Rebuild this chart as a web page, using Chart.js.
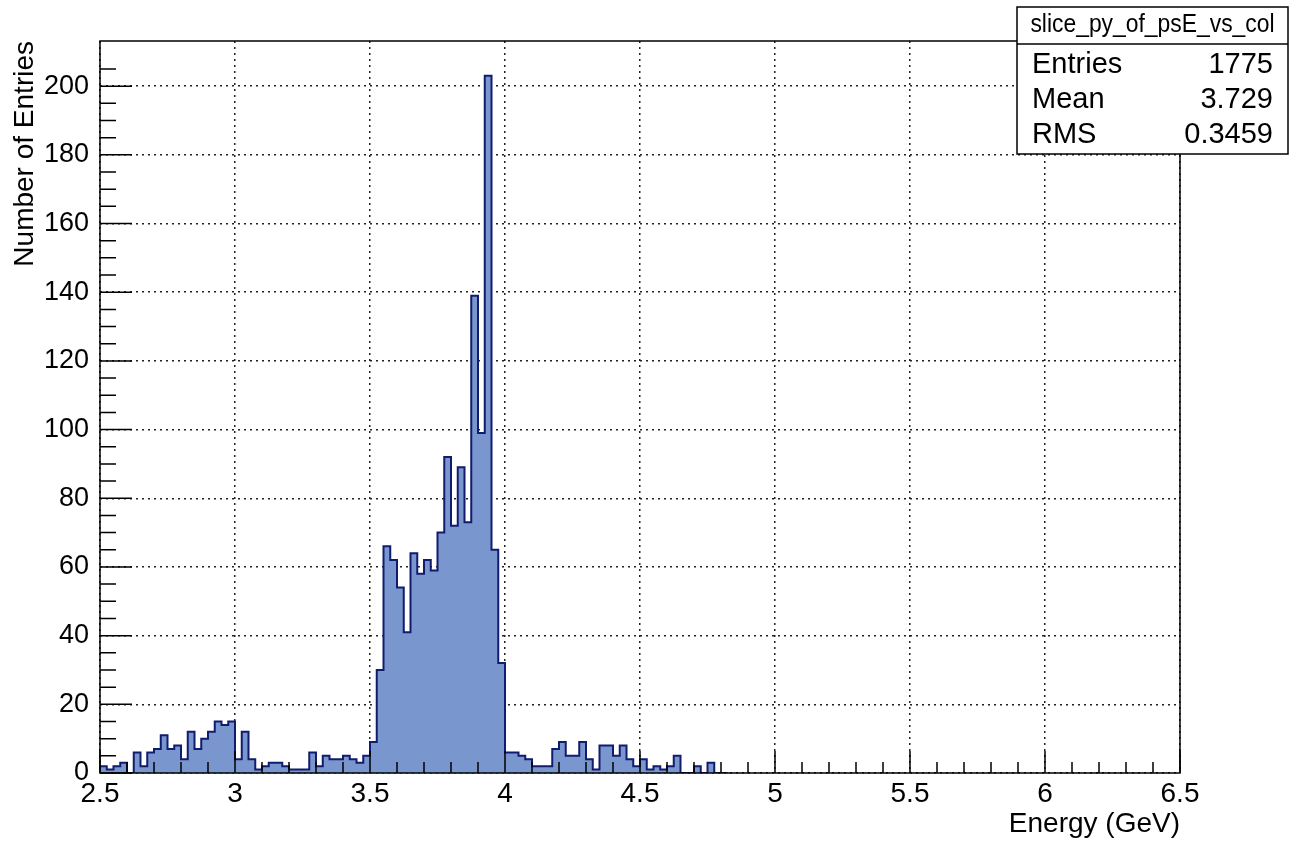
<!DOCTYPE html>
<html>
<head>
<meta charset="utf-8">
<script src="https://cdn.jsdelivr.net/npm/chart.js@4.4.1/dist/chart.umd.min.js"></script>
<style>
  html, body { margin: 0; padding: 0; background: #fff; }
</style>
</head>
<body>
<canvas id="histo" width="1300" height="846"></canvas>
<script>
// slice_py_of_psE_vs_col : 0.025 GeV bins starting at 2.5 GeV
var xMin = 2.5, xMax = 6.5, binWidth = 0.025;
var yMax = 213.15;
var counts = [
  2, 1, 2, 3, 0, 6, 2, 6, 7, 11, 7, 8, 4, 12, 7, 10, 12, 15, 14, 15,
  4, 12, 4, 1, 2, 3, 3, 2, 1, 1, 1, 6, 2, 5, 4, 4, 5, 4, 3, 5,
  9, 30, 66, 62, 54, 41, 64, 58, 62, 59, 70, 92, 72, 89, 73, 139, 99, 203, 65, 32,
  6, 6, 5, 4, 2, 2, 2, 7, 9, 5, 5, 9, 4, 1, 8, 8, 5, 8, 4, 2,
  4, 1, 2, 1, 2, 5, 0, 0, 2, 0, 3, 0, 0
];
var xTitle = "Energy (GeV)";
var yTitle = "Number of Entries";
var statsTitle = "slice_py_of_psE_vs_col";
var statsNames = ["Entries", "Mean", "RMS"];
var statsValues = ["1775", "3.729", "0.3459"];

var FONT = "'Liberation Sans', Arial, Helvetica, sans-serif";

function onStep(v, step) {
  var r = v / step;
  return Math.abs(r - Math.round(r)) < 1e-6;
}

// points at the left bin edges, drawn as steps
var points = [{x: xMin, y: 0}];
counts.forEach(function (c, i) {
  points.push({x: xMin + i * binWidth, y: c});
});
points.push({x: xMin + counts.length * binWidth, y: 0});

var rootFrame = {
  id: "rootFrame",
  afterDatasetsDraw: function (chart) {
    var ctx = chart.ctx, a = chart.chartArea;
    var xs = chart.scales.x, ys = chart.scales.y;
    ctx.save();
    ctx.strokeStyle = "#000";
    ctx.lineWidth = 1.5;
    ctx.beginPath();
    ys.ticks.forEach(function (t) {
      if (!onStep(t.value, 5)) return;
      var len = onStep(t.value, 20) ? 32 : 16;
      var y = ys.getPixelForValue(t.value);
      ctx.moveTo(a.left, y);
      ctx.lineTo(a.left + len, y);
    });
    xs.ticks.forEach(function (t) {
      var len = onStep(t.value, 0.5) ? 22 : 11;
      var x = xs.getPixelForValue(t.value);
      ctx.moveTo(x, a.bottom);
      ctx.lineTo(x, a.bottom - len);
    });
    ctx.stroke();
    ctx.strokeRect(a.left, a.top, a.right - a.left, a.bottom - a.top);
    ctx.restore();
  },
  afterDraw: function (chart) {
    var ctx = chart.ctx;
    var bx = 1017, by = 7, bw = 271, bh = 147;
    ctx.save();
    ctx.fillStyle = "#fff";
    ctx.fillRect(bx, by, bw, bh);
    ctx.strokeStyle = "#000";
    ctx.lineWidth = 1.5;
    ctx.strokeRect(bx, by, bw, bh);
    ctx.beginPath();
    ctx.moveTo(bx, by + 37);
    ctx.lineTo(bx + bw, by + 37);
    ctx.stroke();
    ctx.fillStyle = "#000";
    ctx.textBaseline = "middle";
    // header is a narrow font in the original, squeeze it a bit
    ctx.save();
    ctx.translate(bx + bw / 2, by + 18);
    ctx.scale(0.88, 1);
    ctx.font = "26px " + FONT;
    ctx.textAlign = "center";
    ctx.fillText(statsTitle, 0, 0);
    ctx.restore();
    ctx.font = "29px " + FONT;
    for (var i = 0; i < statsNames.length; i++) {
      var y = by + 58 + i * 35;
      ctx.textAlign = "left";
      ctx.fillText(statsNames[i], bx + 15, y);
      ctx.textAlign = "right";
      ctx.fillText(statsValues[i], bx + bw - 15, y);
    }
    ctx.restore();
  }
};

new Chart("histo", {
  type: "line",
  data: {
    datasets: [{
      data: points,
      stepped: "before",
      fill: "origin",
      backgroundColor: "rgb(122,150,207)",
      borderColor: "#111c6e",
      borderWidth: 2,
      pointRadius: 0
    }]
  },
  options: {
    responsive: false,
    animation: false,
    layout: {padding: {left: 0, right: 120, top: 41, bottom: 0}},
    plugins: {legend: {display: false}, tooltip: {enabled: false}},
    scales: {
      x: {
        type: "linear",
        min: xMin,
        max: xMax,
        afterFit: function (s) { s.height = 73; },
        ticks: {
          stepSize: 0.1,
          maxTicksLimit: 1000,
          autoSkip: false,
          maxRotation: 0,
          padding: 4,
          color: "#000",
          font: {family: FONT, size: 28},
          callback: function (v) {
            return onStep(v, 0.5) ? String(Number(v.toFixed(1))) : "";
          }
        },
        grid: {
          drawTicks: false,
          lineWidth: 1.5,
          color: function (c) {
            return c.tick && onStep(c.tick.value, 0.5) ? "#222" : "rgba(0,0,0,0)";
          }
        },
        border: {display: false, dash: [2, 4]},
        title: {
          display: true,
          text: xTitle,
          align: "end",
          color: "#000",
          padding: {top: 0, bottom: 5},
          font: {family: FONT, size: 28}
        }
      },
      y: {
        min: 0,
        max: yMax,
        afterFit: function (s) { s.width = 100; },
        ticks: {
          stepSize: 5,
          maxTicksLimit: 1000,
          autoSkip: false,
          padding: 11,
          color: "#000",
          font: {family: FONT, size: 27},
          callback: function (v) {
            return onStep(v, 20) ? String(Math.round(v)) : "";
          }
        },
        grid: {
          drawTicks: false,
          lineWidth: 1.5,
          color: function (c) {
            return c.tick && onStep(c.tick.value, 20) ? "#222" : "rgba(0,0,0,0)";
          }
        },
        border: {display: false, dash: [2, 4]},
        title: {
          display: true,
          text: yTitle,
          align: "end",
          color: "#000",
          padding: {top: 8, bottom: 0},
          font: {family: FONT, size: 28}
        }
      }
    }
  },
  plugins: [rootFrame]
});
</script>
</body>
</html>
